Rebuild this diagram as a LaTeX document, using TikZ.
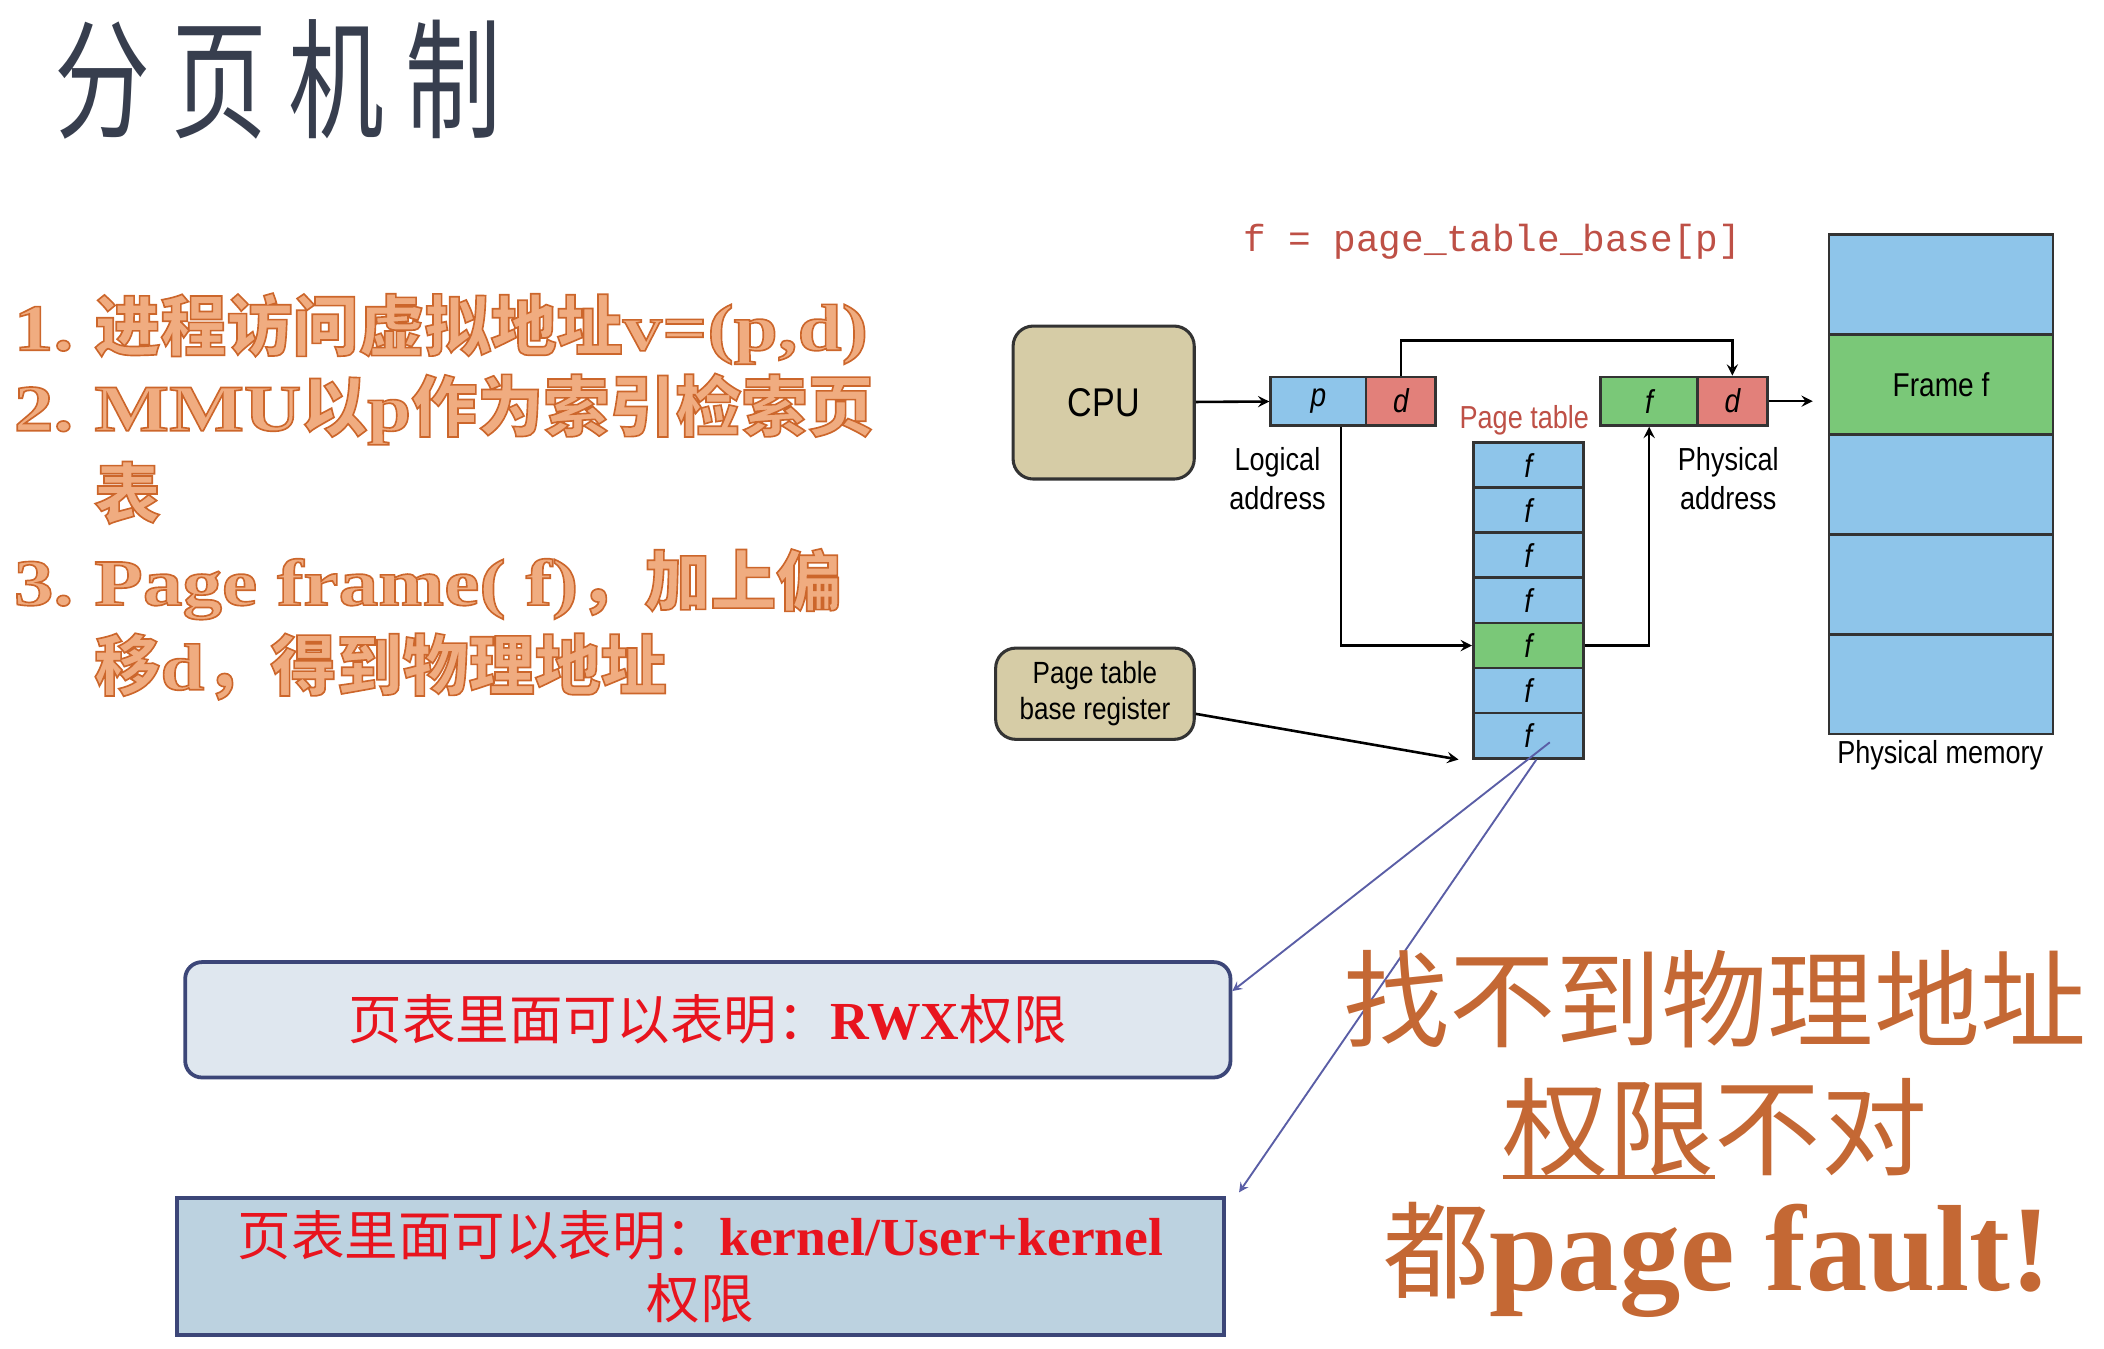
\documentclass[tikz,border=0pt]{standalone}
\usepackage{fontspec}
\usetikzlibrary{calc}
\newfontfamily\cjk{Noto Sans CJK SC}
\newfontfamily\cjktitle[FakeStretch=0.74]{Noto Sans CJK SC}
\newfontfamily\labelfont[FakeStretch=0.85]{Liberation Sans}
\newfontfamily\codefont{Liberation Mono}
\newfontfamily\boxserif{Liberation Serif}
\newfontfamily\listserif[FakeStretch=1.2]{Liberation Serif}
% hollow orange letters: light fill, darker stroke
\newcommand\hollow[1]{\special{pdf:literal direct 2 Tr 0.7 w 0.80 0.40 0.17 RG}#1\special{pdf:literal direct 0 Tr}}
\newsavebox\ulbox
\newcommand\thickul[1]{\sbox\ulbox{#1}\rlap{\rule[-5pt]{\wd\ulbox}{1.6pt}}\usebox\ulbox}
\definecolor{titlegray}{RGB}{55,62,78}
\definecolor{listorange}{RGB}{240,172,128}
\definecolor{faultbrown}{RGB}{196,104,52}
\definecolor{tan}{RGB}{214,204,166}
\definecolor{cellblue}{RGB}{142,197,234}
\definecolor{cellgreen}{RGB}{122,200,120}
\definecolor{cellred}{RGB}{226,128,122}
\definecolor{labelred}{RGB}{190,80,70}
\definecolor{boxnavy}{RGB}{60,70,120}
\definecolor{linkblue}{RGB}{90,94,166}
\definecolor{boxred}{RGB}{232,20,30}
\begin{document}
\begin{tikzpicture}[x=0.2mm, y=-0.2mm, >=stealth,
    unit/.style={draw=black!80, line width=1.3pt, fill=tan, rounded corners=3mm, align=center},
    cell/.style={draw=black!80, line width=1.2pt, minimum height=7.2mm, inner sep=0pt, font=\labelfont\itshape\fontsize{14}{16}\selectfont},
    ptrow/.style={cell, minimum width=16.4mm, minimum height=6.714mm, fill=cellblue},
    memrow/.style={cell, minimum width=33.4mm, minimum height=14.88mm, fill=cellblue},
    caption/.style={font=\labelfont\fontsize{13.5}{16.5}\selectfont, align=center},
    listline/.style={anchor=base west, inner sep=0pt, text=listorange, font=\listserif\bfseries\fontsize{28}{30}\selectfont},
    note/.style={draw=boxnavy, line width=1.6pt, text=boxred, align=center, font=\fontsize{22.7}{26.6}\selectfont},
    fault/.style={anchor=base, inner sep=0pt, text=faultbrown, font=\fontsize{45}{50}\selectfont}]
\useasboundingbox (0,0) rectangle (1568,1005);

% title and steps
\node[anchor=west, inner sep=0pt, text=titlegray, font=\fontsize{55}{60}\selectfont] (title) at (40,59)
    {\cjktitle 分\hspace{9pt}页\hspace{9pt}机\hspace{9pt}制};
\node[listline] (n1) at (10,261) {\hollow{1.}};
\node[listline] (s1) at (70,261) {\hollow{{\cjk\bfseries 进程访问虚拟地址}v=(p,d)}};
\node[listline] (n2) at (10,321) {\hollow{2.}};
\node[listline] (s2) at (70,321) {\hollow{MMU{\cjk\bfseries 以}p{\cjk\bfseries 作为索引检索页}}};
\node[listline] (s2b) at (70,386) {\hollow{\cjk\bfseries 表}};
\node[listline] (n3) at (10,451) {\hollow{3.}};
\node[listline] (s3) at (70,451) {\hollow{Page frame( f){\cjk\bfseries ，加上偏}}};
\node[listline] (s3b) at (70,514) {\hollow{{\cjk\bfseries 移}d{\cjk\bfseries ，得到物理地址}}};

% translation diagram
\node[text=labelred, font=\fontsize{16}{18}\selectfont] (formula) at (1112,180) {\codefont f = page\_table\_base[p]};
\node[unit, minimum width=27mm, minimum height=22.8mm, font=\labelfont\fontsize{17}{20}\selectfont] (cpu) at (822.5,300) {CPU};
\node[unit, minimum width=29.6mm, minimum height=13.6mm, font=\labelfont\fontsize{13}{15.5}\selectfont] (ptbr) at (816,517) {Page table\\base register};

\node[cell, minimum width=14.2mm, fill=cellblue] (lp) at (982.5,299) {p};
\node[cell, minimum width=10.4mm, fill=cellred] (ld) at (1044,299) {d};
\node[cell, minimum width=14.4mm, fill=cellgreen] (pf) at (1229,299) {f};
\node[cell, minimum width=10.4mm, fill=cellred] (pd) at (1291,299) {d};
\node[caption] (logical) at (952,357) {Logical\\address};
\node[caption] (physical) at (1288,357) {Physical\\address};

\node[caption, text=labelred] (ptlabel) at (1136,313) {Page table};
\node[ptrow] (r1) at (1139,346.8) {f};
\node[ptrow] (r2) at (1139,380.4) {f};
\node[ptrow] (r3) at (1139,413.9) {f};
\node[ptrow] (r4) at (1139,447.5) {f};
\node[ptrow, fill=cellgreen] (r5) at (1139,481.1) {f};
\node[ptrow] (r6) at (1139,514.6) {f};
\node[ptrow] (r7) at (1139,548.2) {f};

\node[memrow] (m1) at (1446.5,212.2) {};
\node[memrow, fill=cellgreen, font=\labelfont\fontsize{14}{16}\selectfont] (m2) at (1446.5,286.6) {Frame f};
\node[memrow] (m3) at (1446.5,361) {};
\node[memrow] (m4) at (1446.5,435.4) {};
\node[memrow] (m5) at (1446.5,509.8) {};
\node[caption] (memlabel) at (1446,563) {Physical memory};

\draw[->, line width=1.1pt] (cpu) -- (lp);
\draw[->, line width=1.1pt] (ld.north) -- ++(0,-26) -| (pd.north);
\draw[->, line width=1.1pt] ([xshift=3.4mm]lp.south) |- (r5.west);
\draw[->, line width=1.1pt] (r5.east) -| (pf.south);
\draw[->, line width=1.1pt, shorten >=2.2mm] (pd.east) -- (pd.east -| m2.west);
\draw[->, line width=1.1pt] ([yshift=-3mm]ptbr.east) -- ([xshift=-2mm]r7.south west);

% permission notes
\node[note, rounded corners=2.5mm, fill={rgb,255:red,223;green,231;blue,239}, minimum width=155.8mm, minimum height=17.2mm] (rwx) at (527.5,760)
    {{\cjk 页表里面可以表明：}{\boxserif\bfseries RWX}{\cjk 权限}};
\node[note, fill={rgb,255:red,188;green,210;blue,224}, minimum width=156mm, minimum height=20.4mm] (kbox) at (522,944)
    {{\cjk 页表里面可以表明：}{\boxserif\bfseries kernel/User+kernel}\\{\cjk 权限}};
\draw[->, linkblue, line width=0.8pt] ([xshift=3.2mm,yshift=-1mm]r7.center) -- ([yshift=-4.6mm]rwx.north east);
\draw[->, linkblue, line width=0.8pt] ([xshift=1.2mm]r7.south) -- ([xshift=2mm,yshift=0.6mm]kbox.north east);

% page fault
\node[fault] (f1) at (1278,775) {\cjk 找不到物理地址};
\node[fault] (f2) at (1278,870) {\cjk\thickul{权限}不对};
\node[fault] (f3) at (1280,962) {{\cjk 都}{\boxserif\bfseries\fontsize{52}{56}\selectfont page fault!}};
\end{tikzpicture}
\end{document}
